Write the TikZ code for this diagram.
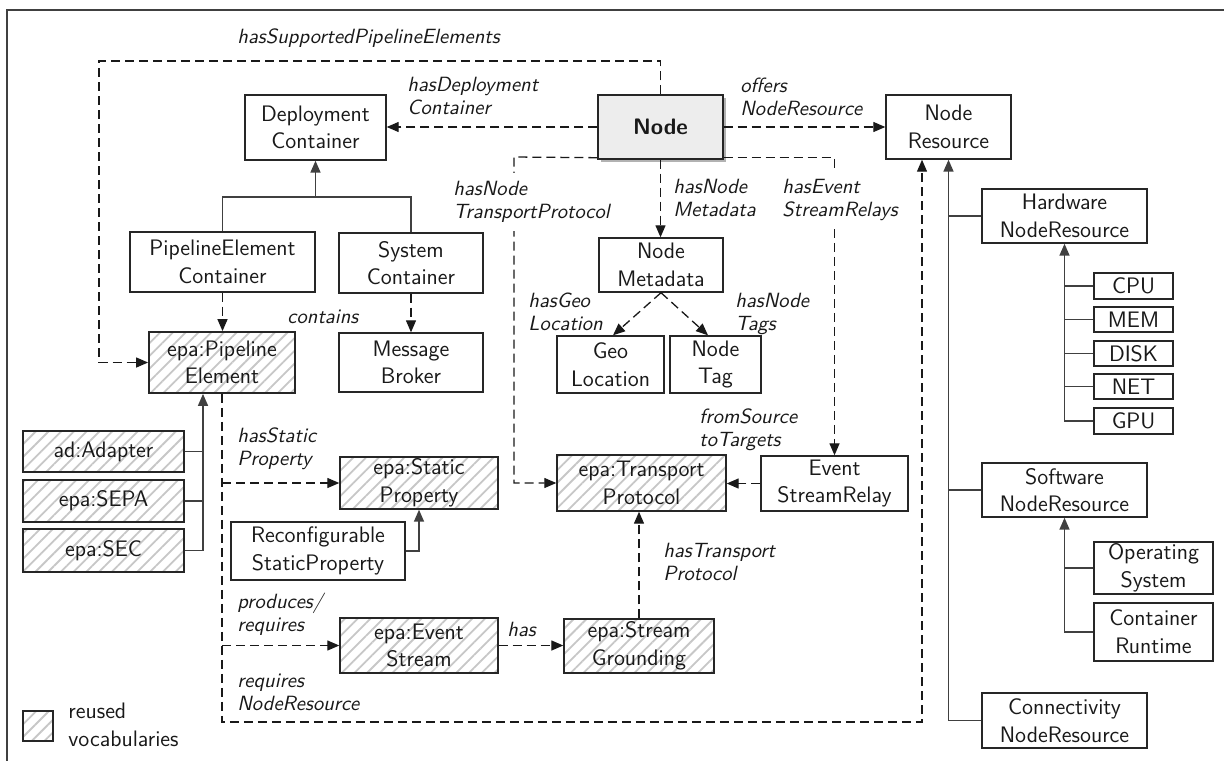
\documentclass[tikz,border=0pt]{standalone}
\usepackage{fontspec}
\usetikzlibrary{arrows.meta,patterns.meta,shadows}
\begin{document}
\begin{tikzpicture}[x=0.5pt,y=-0.5pt,
  every node/.style={font=\sffamily\fontsize{11.2}{13.8}\selectfont, text=black!90},
  box/.style={draw=black!85, line width=0.7pt, align=center, inner sep=0pt},
  reused/.style={box, pattern={Lines[angle=45,distance=4.5pt,line width=0.9pt]}, pattern color=black!22},
  sz/.style 2 args={minimum width=#1*0.5pt, minimum height=#2*0.5pt},
  lbl/.style={font=\sffamily\itshape\fontsize{10.3}{11.5}\selectfont, align=left, anchor=north west, inner sep=0pt},
  wlbl/.style={lbl, fill=white, inner ysep=4pt},
  rel/.style={draw=black!90, line width=0.65pt, dash pattern=on 4.5pt off 2.5pt, -{Triangle[length=6pt,width=5pt]}},
  inh/.style={draw=black!75, line width=0.8pt},
  tip/.style={-{Triangle[length=6pt,width=5pt]}},
  frame/.style={draw=black!75, line width=0.8pt}
]
\clip (0,0) rectangle (1224,760);
\fill[white] (0,0) rectangle (1224,760);
\draw[frame] (7,10) rectangle (1240,780);

% ---- nodes ----
\node[box,sz={141}{65}] (dep) at (315.5,127.5) {Deployment\\Container};
\node[box,sz={125}{64},fill=black!7,drop shadow={shadow xshift=1.5pt,shadow yshift=-1.5pt,fill=black!50,opacity=.6},font=\sffamily\bfseries\fontsize{11.2}{13.8}\selectfont] (node) at (660.5,127) {Node};
\node[box,sz={125}{64}] (nres) at (948.5,127) {Node\\Resource};
\node[box,sz={185}{60}] (pec) at (222.5,262) {PipelineElement\\Container};
\node[box,sz={144}{60}] (sysc) at (411,263) {System\\Container};
\node[box,sz={124}{54}] (nmeta) at (661,265) {Node\\Metadata};
\node[reused,sz={146}{61}] (pe) at (222,362.5) {epa:Pipeline\\Element};
\node[box,sz={144}{59}] (mb) at (411,362.5) {Message\\Broker};
\node[box,sz={107}{57}] (geo) at (610.5,364.5) {Geo\\Location};
\node[box,sz={91}{57}] (tag) at (715.5,364.5) {Node\\Tag};
\node[reused,sz={161}{41}] (adapter) at (103.5,451.5) {ad:Adapter};
\node[reused,sz={161}{42}] (sepa) at (103.5,501) {epa:SEPA};
\node[reused,sz={161}{43}] (sec) at (103.5,550.5) {epa:SEC};
\node[reused,sz={158}{52}] (sp) at (419,483) {epa:Static\\Property};
\node[box,sz={174}{58}] (rsp) at (318,551) {Reconfigurable\\StaticProperty};
\node[reused,sz={169}{56}] (tp) at (641.5,483) {epa:Transport\\Protocol};
\node[box,sz={147}{55}] (esr) at (834.5,483.5) {Event\\StreamRelay};
\node[reused,sz={158}{55}] (es) at (419,645.5) {epa:Event\\Stream};
\node[reused,sz={150}{54}] (sg) at (639,646) {epa:Stream\\Grounding};
\node[box,sz={165}{54}] (hw) at (1064.5,216) {Hardware\\NodeResource};
\node[box,sz={79}{26}] (cpu) at (1133.5,286) {CPU};
\node[box,sz={79}{25}] (mem) at (1133.5,319.5) {MEM};
\node[box,sz={79}{25}] (disk) at (1133.5,353.5) {DISK};
\node[box,sz={79}{25}] (net) at (1133.5,386.5) {NET};
\node[box,sz={79}{26}] (gpu) at (1133.5,421) {GPU};
\node[box,sz={165}{54}] (sw) at (1064.5,490) {Software\\NodeResource};
\node[box,sz={119}{52}] (os) at (1153.5,568) {Operating\\System};
\node[box,sz={119}{58}] (cr) at (1153.5,632) {Container\\Runtime};
\node[box,sz={165}{55}] (conn) at (1064.5,720.5) {Connectivity\\NodeResource};
\node[reused,sz={30}{30}] (leg) at (38,726) {};
\node[align=left,anchor=north west,inner sep=0pt] (legt) at (68,703) {reused\\vocabularies};

% ---- coordinates ----
\coordinate (c1) at (99,61);
\coordinate (dj) at (315.5,197);
\coordinate (c2) at (514,157);
\coordinate (c4) at (922,722);

% ---- inheritance ----
\draw[inh] (pec.north) |- (dj) -| (sysc.north);
\draw[inh,tip] (dj) -- (dep.south);
\draw[inh,tip] (sec.east) -| ([xshift=-9.5pt]pe.south);
\draw[inh] (adapter.east) -- ++(19,0);
\draw[inh] (sepa.east) -- ++(19,0);
\draw[inh,tip] (rsp.east) -| (sp.south);
\draw[inh,tip] (conn.west) -| (nres.south);
\draw[inh] (hw.west) -- (hw.west -| nres.south);
\draw[inh] (sw.west) -- (sw.west -| nres.south);
\draw[inh,tip] (gpu.west) -| (hw.south);
\foreach \n in {cpu,mem,disk,net} \draw[inh] (\n.west) -- (\n.west -| hw.south);
\draw[inh,tip] (cr.west) -| (sw.south);
\draw[inh] (os.west) -- (os.west -| sw.south);

% ---- relations ----
\draw[rel] (node.north) |- (c1) |- (pe.west);
\draw[rel] (node.west) -- (node.west -| dep.east);
\draw[rel] (node.east) -- (node.east -| nres.west);
\draw[rel] (pec.south) -- (pec.south |- pe.north);
\draw[rel] (sysc.south) -- (mb.north);
\draw[rel] ([yshift=1pt]node.south west) -- (c2) |- (tp.west);
\draw[rel] ([yshift=1pt]node.south east) -| (esr.north);
\draw[rel] (node.south) -- (node.south |- nmeta.north);
\draw[rel] (nmeta.south) -- ([xshift=1.25pt]geo.north);
\draw[rel] (nmeta.south) -- ([xshift=-3.75pt]tag.north);
\draw[rel] (esr.west) -- (esr.west -| tp.east);
\draw[rel] (sg.north) -- (sg.north |- tp.south);
\draw[rel] (es.east) -- (es.east -| sg.west);
\draw[rel] (pe.south) |- (c4) -- (c4 |- nres.south);
\draw[rel] (pe.south |- sp.west) -- (sp.west);
\draw[rel] (pe.south |- es.west) -- (es.west);

% ---- labels ----
\node[lbl] (l1) at (237,28) {hasSupportedPipelineElements};
\node[lbl] (l2) at (407,77) {hasDeployment\\Container};
\node[lbl] (l3) at (740,78) {offers\\NodeResource};
\node[wlbl] (l4) at (453,173) {hasNode\\TransportProtocol};
\node[lbl] (l5) at (673,179) {hasNode\\Metadata};
\node[wlbl] (l6) at (782,171) {hasEvent\\StreamRelays};
\node[lbl] (l7) at (528,293) {hasGeo\\Location};
\node[lbl] (l8) at (735,293) {hasNode\\Tags};
\node[lbl,anchor=base west] (l9) at (287,323) {contains};
\node[lbl] (l10) at (237,427) {hasStatic\\Property};
\node[lbl] (l11) at (699,408) {fromSource\\toTargets};
\node[lbl] (l12) at (663,543) {hasTransport\\Protocol};
\node[lbl] (l13) at (237,593) {produces/\\requires};
\node[lbl] (l14) at (507,622) {has};
\node[lbl] (l15) at (237,674) {requires\\NodeResource};
\end{tikzpicture}
\end{document}
